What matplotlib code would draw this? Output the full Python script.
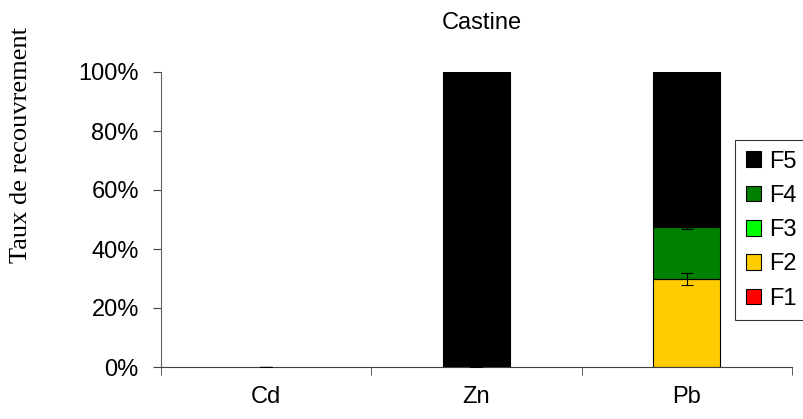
import matplotlib.pyplot as plt
import numpy as np
from matplotlib.ticker import PercentFormatter

elements = ['Cd', 'Zn', 'Pb']
fractions = ['F1', 'F2', 'F3', 'F4', 'F5']

F1 = [0.0, 0.0, 0.0]
F2 = [0.0, 0.0, 0.298]
F3 = [0.0, 0.0, 0.0]
F4 = [0.0, 0.0, 0.178]
F5 = [0.0, 1.0, 0.524]

err_F2 = [0.0, 0.0, 0.02]
err_F4 = [0.0, 0.0, 0.007]

colors = ['#FF0000', '#FFCC00', '#00FF00', '#008000', '#000000']

plt.rcParams['font.family'] = ['Liberation Sans', 'DejaVu Sans']
fs = 17

fig = plt.figure(figsize=(8.04, 4.19), dpi=100)
ax = fig.add_axes([161 / 804, 1 - 367 / 419, (792 - 161) / 804, (367 - 72) / 419])

x = np.arange(len(elements))
width = 0.32
bottom = np.zeros(len(elements))
tops = {}
for name, vals, c in zip(fractions, [F1, F2, F3, F4, F5], colors):
    vals = np.array(vals)
    # pas de barre dessinée quand la valeur est nulle
    shown = np.where(vals > 0, vals, np.nan)
    ax.bar(x, shown, width, bottom=bottom, color=c, edgecolor='black',
           linewidth=0.8, label=name, zorder=2)
    bottom = bottom + vals
    tops[name] = bottom.copy()

# barres d'erreur sur les sommes cumulées
ax.errorbar(x, tops['F2'], yerr=err_F2, fmt='none', ecolor='black',
            elinewidth=0.8, capsize=4, capthick=0.8, zorder=3)
ax.errorbar(x, tops['F4'], yerr=err_F4, fmt='none', ecolor='black',
            elinewidth=0.8, capsize=4, capthick=0.8, zorder=3)

ax.set_xlim(-0.5, 2.5)
ax.set_ylim(0, 1)
ax.yaxis.set_major_formatter(PercentFormatter(1.0, decimals=0))
ax.set_yticks(np.arange(0, 1.01, 0.2))
ax.set_xticks(x)
ax.set_xticklabels(elements)
ax.set_xticks([-0.5, 0.5, 1.5, 2.5], minor=True)
ax.tick_params(axis='x', which='major', length=0, labelsize=fs, pad=14)
ax.tick_params(axis='x', which='minor', length=6, direction='out', color='#404040')
ax.tick_params(axis='y', length=6, direction='out', labelsize=fs, pad=10, color='#404040')

for s in ['top', 'right']:
    ax.spines[s].set_visible(False)
ax.spines['left'].set_color('#606060')
ax.spines['bottom'].set_color('#404040')

fig.text(482 / 804, 1 - 23 / 419, 'Castine', ha='center', va='center', fontsize=fs)
fig.text(21 / 804, 1 - 145 / 419, 'Taux de recouvrement', rotation=90,
         ha='center', va='center', fontsize=19, family=['Liberation Serif'])

handles, labels = ax.get_legend_handles_labels()
leg = fig.legend(handles[::-1], labels[::-1], loc='upper left',
                 bbox_to_anchor=(735 / 804, 1 - 140 / 419), fontsize=fs,
                 frameon=True, fancybox=False, edgecolor='black',
                 handlelength=0.65, handleheight=0.65, handletextpad=0.35,
                 labelspacing=0.52, borderpad=0.45, borderaxespad=0)
leg.get_frame().set_linewidth(0.8)

fig.savefig('out.png', dpi=100)
